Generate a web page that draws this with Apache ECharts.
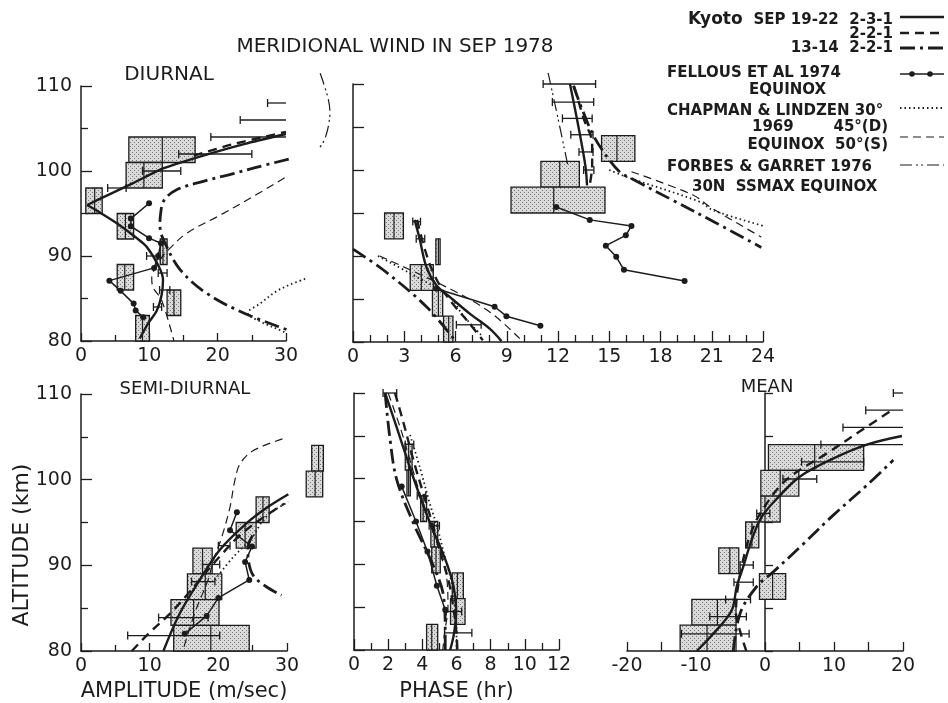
<!DOCTYPE html>
<html>
<head>
<meta charset="utf-8">
<title>Meridional wind in Sep 1978</title>
<script src="https://cdn.jsdelivr.net/npm/echarts@6/dist/echarts.min.js"></script>
<style>
  html, body { margin: 0; padding: 0; background: #ffffff; }
  #chart { width: 948px; height: 703px; }
</style>
</head>
<body>
<div id="chart"></div>
<script>
// ---------------- tick labels ----------------
const altTicks = [80, 90, 100, 110];                 // km
const ampTicks = [0, 10, 20, 30];                    // m/s
const diurnalPhaseTicks = [0, 3, 6, 9, 12, 15, 18, 21, 24];   // hr
const semiPhaseTicks = [0, 2, 4, 6, 8, 10, 12];                // hr
const meanTicks = [-20, -10, 0, 10, 20];                       // m/s

// ---------------- DIURNAL amplitude ----------------
// boxes: [low, centre, high, altBottom, altTop]
const diurnalAmpBoxes = [
  [7.0, 11.9, 16.7, 101, 104],
  [6.6, 9.2, 11.9, 98, 101],
  [0.7, 2.0, 3.1, 95, 98],
  [5.3, 6.5, 7.7, 92, 95],
  [11.6, 12.0, 12.6, 89, 92],
  [5.3, 6.4, 7.7, 86, 89],
  [12.6, 13.6, 14.6, 83, 86],
  [8.0, 9.0, 10.0, 80, 83]
];
// error bars: [low, high, altitude]
const diurnalAmpErr = [
  [27.3, 31, 108], [23.3, 31, 106], [19.0, 31, 104], [14.3, 25.0, 102],
  [9.0, 14.6, 100], [3.9, 6.6, 98], [9.6, 11.3, 90], [11.3, 12.6, 88],
  [11.5, 13.0, 86], [10.6, 11.8, 84]
];
const diurnalAmpK231Upper = [[30, 104.35], [24, 103.2], [17.4, 101.7], [12, 100.3], [7.7, 98.6], [4, 97.2], [0.9, 96.0]];
const diurnalAmpK231Lower = [[0.9, 96.0], [3.0, 95.0], [5.7, 93.6], [8.0, 92.2], [9.6, 91.1], [11.3, 88.9], [12.0, 87.2], [11.8, 85.4], [11.1, 83.6], [9.85, 82.1], [8.6, 80.3]];
const diurnalAmpK221 = [[16.5, 101.8], [22, 103.1], [30, 104.6]];
const diurnalAmpK1314 = [[30.4, 101.4], [25.5, 100.4], [22.3, 99.7], [18.4, 98.9], [14.0, 97.8], [12.2, 96.6], [11.7, 95.3], [11.6, 93.1], [12.3, 91.5], [14.5, 88.4], [18.4, 85.6], [23.8, 83.3], [30.6, 81.2]];
const diurnalAmpCL30 = [[32.8, 87.3], [30.5, 86.6], [28.5, 85.8], [26.2, 84.4], [24.4, 83.3], [26.2, 82.3], [29.6, 81.1], [30.0, 80.8]];
const diurnalAmpCL45 = [[29.8, 99.2], [25.2, 97.0], [20.35, 94.8], [15.5, 92.7], [13.0, 90.9], [11.6, 89.6], [10.8, 88.5], [10.35, 87.5], [10.5, 86.4], [11.8, 84.8], [13.6, 80.0]];
const diurnalAmpFG = [[35.0, 111.5], [36.2, 108.4], [36.4, 106.4], [35.7, 103.8], [34.7, 102.5]];
const diurnalAmpFellous = [[9.96, 96.2], [7.3, 94.4], [7.3, 93.5], [9.96, 92.1], [11.7, 91.5], [11.3, 90.0], [10.7, 88.6], [4.15, 87.1], [5.8, 85.9], [7.7, 84.4], [8.0, 83.6], [9.1, 82.8]];

// ---------------- DIURNAL phase ----------------
const diurnalPhaseBoxes = [
  [14.55, 15.45, 16.5, 101, 104],
  [11.0, 12.1, 13.25, 98, 101],
  [9.25, 11.75, 14.75, 95, 98],
  [1.85, 2.4, 2.95, 92, 95],
  [4.85, 5.0, 5.1, 89, 92],
  [3.35, 4.0, 4.7, 86, 89],
  [4.65, 5.0, 5.25, 83, 86],
  [5.3, 5.6, 5.85, 80, 83]
];
const diurnalPhaseErr = [
  [11.13, 14.2, 110], [11.67, 14.09, 107.9], [12.26, 14.0, 106], [12.75, 14.05, 104.1],
  [13.23, 14.05, 102.1], [13.5, 14.1, 100], [6.05, 7.5, 82], [3.5, 3.95, 94], [3.7, 4.2, 92]
];
const diurnalPhaseK231Upper = [[12.7, 110], [13.2, 105], [13.6, 100.5], [13.7, 98.2]];
const diurnalPhaseK231Lower = [[3.61, 94.2], [3.9, 92], [4.3, 88.7], [4.88, 86.6], [5.66, 85.25], [6.83, 83.3], [8.0, 81.55], [8.69, 80.1]];
const diurnalPhaseK221Upper = [[12.95, 109.7], [13.5, 106], [14.0, 103], [14.0, 100.5], [13.85, 98.2]];
const diurnalPhaseK221Lower = [[3.75, 94.2], [4.1, 91.5], [4.6, 88.5], [5.2, 86.2], [5.9, 84.3], [6.8, 82.2], [7.6, 80.2]];
const diurnalPhaseK1314Upper = [[12.9, 109.8], [13.9, 104.7], [14.6, 102.3], [15.6, 99.8], [16.3, 99.0], [18.7, 96.5], [21.2, 93.9], [23.9, 91.0]];
const diurnalPhaseK1314Lower = [[0, 90.8], [1.76, 88.4], [4.3, 84.1], [6.0, 80.1]];
const diurnalPhaseCL30Upper = [[15.0, 100.0], [16.0, 99.2], [20.3, 96.3], [21.1, 95.3], [24.2, 93.4]];
const diurnalPhaseCL30Lower = [[1.46, 90.0], [3.32, 88.0], [5.66, 85.25], [6.44, 83.1], [7.6, 80.6]];
const diurnalPhaseCL45Upper = [[16.3, 99.8], [19.9, 97.1], [20.9, 95.7], [23.9, 92.2]];
const diurnalPhaseCL45Lower = [[1.56, 90.0], [5.66, 86.2], [8.0, 83.5], [9.76, 80.4]];
const diurnalPhaseFG = [[11.42, 111.3], [12.0, 106], [12.59, 100.4]];
const diurnalPhaseFellousUpper = [[11.9, 95.7], [13.86, 94.2], [16.3, 93.5], [15.97, 92.4], [14.8, 91.2], [15.41, 89.9], [15.86, 88.4], [19.41, 87.1]];
const diurnalPhaseFellousLower = [[4.9, 86.2], [8.29, 84.1], [8.98, 83.0], [10.97, 81.9]];

// ---------------- SEMI-DIURNAL amplitude ----------------
const semiAmpBoxes = [
  [33.6, 34.6, 35.3, 101, 104],
  [32.8, 34.1, 35.2, 98, 101],
  [25.5, 26.5, 27.4, 95, 98],
  [22.6, 23.9, 25.5, 92, 95],
  [16.3, 17.7, 19.1, 89, 92],
  [15.5, 18.1, 20.5, 86, 89],
  [13.1, 16.4, 20.1, 83, 86],
  [13.5, 18.9, 24.5, 80, 83]
];
const semiAmpErr = [
  [6.8, 20.2, 81.8], [11.3, 18.5, 83.9], [16.1, 19.5, 88.1], [17.7, 20.2, 90.1], [20.0, 21.7, 92.3]
];
const semiAmpK231 = [[12.0, 80], [14.4, 84.4], [17.3, 88.3], [20.2, 91.8], [24.1, 94.9], [27.2, 96.8], [30.2, 98.3]];
const semiAmpK221 = [[7.4, 80], [9.8, 82], [13.0, 84.4], [15.5, 86.6], [18.0, 89], [20.5, 91.3], [23, 93.4], [26, 95.3], [29.6, 97.2]];
const semiAmpK1314 = [[25.0, 93.5], [24.3, 92.0], [24.4, 90.5], [25.1, 88.8], [27.0, 87.5], [29.2, 86.5]];
const semiAmpCL30 = [[19.5, 88.3], [22.2, 91.0], [24.6, 92.9], [27.0, 95.7], [30.2, 97.4]];
const semiAmpCL50 = [[15.0, 80.5], [16.6, 84.5], [18.5, 88.3], [19.3, 90.6], [20.5, 93.3], [21.7, 96.8], [22.4, 99.9], [23.2, 101.9], [25.1, 103.4], [29.5, 104.8]];
const semiAmpFellous = [[22.7, 96.2], [21.7, 94.1], [24.9, 92.2], [23.9, 90.4], [24.5, 88.3], [20.0, 86.2], [18.3, 84.1], [15.1, 82.0]];

// ---------------- SEMI-DIURNAL phase ----------------
const semiPhaseBoxes = [
  [3.0, 3.2, 3.4, 101, 104],
  [3.1, 3.2, 3.3, 98, 101],
  [3.9, 4.05, 4.25, 95, 98],
  [4.5, 4.7, 4.9, 92, 95],
  [4.55, 4.8, 5.05, 89, 92],
  [5.75, 6.05, 6.4, 86, 89],
  [5.65, 6.0, 6.5, 83, 86],
  [4.25, 4.55, 4.9, 80, 83]
];
const semiPhaseErr = [
  [1.7, 2.5, 110], [5.3, 6.9, 82], [3.0, 3.5, 104], [3.7, 4.2, 98], [4.4, 5.0, 94.5], [5.4, 6.3, 84.5]
];
const semiPhaseK231 = [[1.82, 110], [2.5, 106], [3.19, 101.8], [3.85, 98], [4.46, 94.8], [5.34, 90.6], [5.82, 87.5], [5.98, 84.7], [5.86, 82.0], [5.63, 80]];
const semiPhaseK221 = [[2.4, 110], [2.9, 106.5], [3.5, 102], [4.1, 98], [4.7, 94], [5.2, 90.5], [5.6, 87.5], [5.85, 84.5], [6.0, 82], [6.05, 80]];
const semiPhaseK1314 = [[1.82, 110], [2.11, 104.6], [2.5, 99.9], [3.48, 94.8], [4.65, 89.8], [5.24, 86.3], [5.34, 82.0], [5.34, 80]];
const semiPhaseCL30 = [[3.28, 105.1], [3.9, 101], [4.45, 97], [4.85, 94.5], [5.3, 91], [5.7, 88], [5.9, 85], [6.0, 82], [6.0, 80]];
const semiPhaseCL50 = [[2.0, 110], [2.7, 106], [3.3, 102], [3.9, 98], [4.5, 94.5], [5.1, 91], [5.45, 88], [5.5, 85], [5.3, 82], [5.2, 80]];
const semiPhaseFellous = [[2.79, 99.1], [3.63, 95.0], [4.3, 91.5], [4.85, 87.5], [5.34, 84.7]];

// ---------------- MEAN ----------------
const meanBoxes = [
  [0.5, 7.2, 14.3, 101, 104],
  [-0.6, 2.2, 4.9, 98, 101],
  [-0.6, 0.0, 2.2, 95, 98],
  [-2.8, -1.9, -0.9, 92, 95],
  [-6.7, -5.1, -3.8, 89, 92],
  [-0.8, 1.1, 3.0, 86, 89],
  [-10.6, -6.9, -4.2, 83, 86],
  [-12.3, -8.4, -4.2, 80, 83]
];
const meanErr = [
  [18.6, 21, 110], [14.6, 21, 108], [11.3, 21, 106], [8.1, 21, 104], [5.3, 14.3, 102],
  [2.6, 7.5, 100], [-1.2, 0.7, 96], [-3.6, -1.7, 90], [-4.5, -1.7, 88], [-5.7, -2.1, 86],
  [-8.0, -2.7, 84], [-12.1, -2.3, 82]
];
const meanK231 = [[-9.9, 80], [-7.5, 82], [-4.84, 84.7], [-4.1, 87.5], [-3.15, 89.8], [-1.94, 92.9], [-0.48, 95.6], [2.18, 98.1], [5.08, 100.3], [9.93, 102.4], [14.77, 104], [19.85, 105]];
const meanK221 = [[-2.7, 80], [-3.5, 82], [-4.2, 84.5], [-4.0, 87], [-3.2, 90.5], [-2.0, 93.8], [-0.3, 96.5], [3.1, 99.9], [9.0, 103], [14.8, 106.1], [18.6, 108.1]];
const meanK1314 = [[-4.6, 80], [-3.6, 84.4], [-1.2, 87.5], [1.2, 89.2], [5.1, 92.1], [9.9, 95.8], [14.8, 99.3], [18.6, 102.2]];

// ---------------- styling ----------------
const ink = '#1c1c1c';
const FONT = 'DejaVu Sans';
const styles = {
  k231:  { color: ink, width: 2.4, type: 'solid' },
  k221:  { color: ink, width: 2.4, type: [9, 6] },
  k1314: { color: ink, width: 2.8, type: [15, 5, 3, 5] },
  fel:   { color: ink, width: 1.5, type: 'solid' },
  cl30:  { color: ink, width: 1.8, type: [1.5, 3] },
  cl45:  { color: ink, width: 1.2, type: [8, 5] },
  fg:    { color: ink, width: 1.2, type: [12, 4, 2, 3, 2, 4] }
};

// stippled fill for the observation boxes
function makeStipple() {
  const c = document.createElement('canvas');
  c.width = 4; c.height = 4;
  const g = c.getContext('2d');
  g.fillStyle = '#dadada'; g.fillRect(0, 0, 4, 4);
  g.fillStyle = '#7a7a7a';
  g.fillRect(0, 0, 1, 1);
  g.fillRect(2, 2, 1, 1);
  return c;
}
const stipple = { image: makeStipple(), repeat: 'repeat' };

// panel rectangles
const grids = [
  { left: 81,  top: 86,  width: 205, height: 255 },  // diurnal amplitude
  { left: 353, top: 84,  width: 410, height: 258 },  // diurnal phase
  { left: 81,  top: 394, width: 206, height: 257 },  // semi-diurnal amplitude
  { left: 354, top: 393, width: 205, height: 258 },  // semi-diurnal phase
  { left: 627, top: 393, width: 276, height: 258 }   // mean
];

function axisRange(ticks) {
  return { min: ticks[0], max: ticks[ticks.length - 1], interval: ticks[1] - ticks[0] };
}

function xAxisFor(gi, ticks, minorSplit, majorLen, minorLen, extra) {
  return Object.assign({
    type: 'value', gridIndex: gi,
    splitLine: { show: false },
    axisLine: { show: true, onZero: false, lineStyle: { color: ink, width: 1.5 } },
    axisTick: { show: true, inside: true, length: majorLen, lineStyle: { color: ink, width: 1.3 } },
    minorTick: { show: minorSplit > 1, splitNumber: minorSplit, length: minorLen, lineStyle: { color: ink, width: 1.3 } },
    minorSplitLine: { show: false },
    axisLabel: { show: true, color: ink, fontFamily: FONT, fontSize: 19, margin: 6 }
  }, axisRange(ticks), extra || {});
}

function yAxisFor(gi, step, minorSplit, showLabels, onZero, majorLen, minorLen) {
  return {
    type: 'value', gridIndex: gi, min: altTicks[0], max: altTicks[altTicks.length - 1], interval: step,
    splitLine: { show: false },
    axisLine: { show: true, onZero: onZero, lineStyle: { color: ink, width: 1.5 } },
    axisTick: { show: true, inside: true, length: majorLen, lineStyle: { color: ink, width: 1.3 } },
    minorTick: { show: minorSplit > 1, splitNumber: minorSplit, length: minorLen, lineStyle: { color: ink, width: 1.3 } },
    minorSplitLine: { show: false },
    axisLabel: { show: showLabels, color: ink, fontFamily: FONT, fontSize: 19, margin: 9 }
  };
}

const xAxes = [
  xAxisFor(0, ampTicks, 2, 8, 6),
  xAxisFor(1, diurnalPhaseTicks, 3, 11, 7),
  xAxisFor(2, ampTicks, 2, 8, 6, {
    name: 'AMPLITUDE (m/sec)', nameLocation: 'middle', nameGap: 30,
    nameTextStyle: { color: ink, fontFamily: FONT, fontSize: 21 }
  }),
  xAxisFor(3, semiPhaseTicks, 2, 11, 7, {
    name: 'PHASE (hr)', nameLocation: 'middle', nameGap: 31,
    nameTextStyle: { color: ink, fontFamily: FONT, fontSize: 21 }
  }),
  xAxisFor(4, meanTicks, 2, 9, 9)
];
const yAxes = [
  yAxisFor(0, 10, 2, true, false, 11, 7),
  yAxisFor(1, 5, 1, false, false, 11, 7),
  yAxisFor(2, 10, 2, true, false, 11, 7),
  yAxisFor(3, 5, 1, false, false, 11, 7),
  yAxisFor(4, 5, 1, false, true, 8, 8)
];

// ---------------- renderers ----------------
function renderBox(params, api) {
  const lo = api.value(0), mid = api.value(1), hi = api.value(2);
  const bottom = api.value(3), top = api.value(4);
  const a = api.coord([lo, top]);
  const b = api.coord([hi, bottom]);
  const m0 = api.coord([mid, top]);
  const m1 = api.coord([mid, bottom]);
  return {
    type: 'group',
    children: [
      { type: 'rect', shape: { x: a[0], y: a[1], width: b[0] - a[0], height: b[1] - a[1] },
        style: { fill: stipple, stroke: ink, lineWidth: 1.3 } },
      { type: 'line', shape: { x1: m0[0], y1: m0[1], x2: m1[0], y2: m1[1] },
        style: { stroke: ink, lineWidth: 1.2 } }
    ]
  };
}

function makeErrRenderer(xMin, xMax) {
  return function (params, api) {
    const lo = api.value(0), hi = api.value(1), alt = api.value(2);
    const a = api.coord([Math.max(lo, xMin), alt]);
    const b = api.coord([Math.min(hi, xMax), alt]);
    const cap = 4;
    const kids = [{ type: 'line', shape: { x1: a[0], y1: a[1], x2: b[0], y2: b[1] },
                    style: { stroke: ink, lineWidth: 1.3 } }];
    if (lo >= xMin) kids.push({ type: 'line', shape: { x1: a[0], y1: a[1] - cap, x2: a[0], y2: a[1] + cap }, style: { stroke: ink, lineWidth: 1.3 } });
    if (hi <= xMax) kids.push({ type: 'line', shape: { x1: b[0], y1: b[1] - cap, x2: b[0], y2: b[1] + cap }, style: { stroke: ink, lineWidth: 1.3 } });
    return { type: 'group', children: kids };
  };
}

// ---------------- series builders ----------------
const series = [];
function addBoxes(gi, boxes) {
  series.push({ type: 'custom', xAxisIndex: gi, yAxisIndex: gi, data: boxes,
    encode: { x: [0, 1, 2], y: [3, 4] }, renderItem: renderBox, z: 2, silent: true, animation: false });
}
function addErr(gi, errs, ticks) {
  series.push({ type: 'custom', xAxisIndex: gi, yAxisIndex: gi, data: errs,
    encode: { x: [0, 1], y: 2 }, renderItem: makeErrRenderer(ticks[0], ticks[ticks.length - 1]),
    z: 4, silent: true, animation: false });
}
function addCurve(gi, data, style, smooth) {
  series.push({ type: 'line', xAxisIndex: gi, yAxisIndex: gi, data: data,
    smooth: smooth === undefined ? 0.35 : smooth, symbol: 'none', showSymbol: false, clip: false,
    lineStyle: Object.assign({ cap: 'butt' }, style), z: 3, silent: true, animation: false });
}
// a curve that is allowed to run past the panel frame
function addFreeCurve(gi, data, style) {
  series.push({ type: 'custom', xAxisIndex: gi, yAxisIndex: gi, data: data,
    encode: { x: 0, y: 1 }, clip: false, z: 3, silent: true, animation: false,
    renderItem: function (params, api) {
      if (params.dataIndex !== 0) return null;
      const pts = data.map(function (p) { return api.coord(p); });
      return { type: 'polyline', shape: { points: pts, smooth: 0.35 },
               style: { stroke: style.color, lineWidth: style.width, fill: null,
                        lineDash: Array.isArray(style.type) ? style.type : null } };
    } });
}
function addFellous(gi, data) {
  series.push({ type: 'line', xAxisIndex: gi, yAxisIndex: gi, data: data,
    smooth: false, symbol: 'circle', symbolSize: 6, showSymbol: true, clip: false,
    itemStyle: { color: ink }, lineStyle: styles.fel, z: 3, silent: true, animation: false });
}

// diurnal amplitude
addBoxes(0, diurnalAmpBoxes);
addErr(0, diurnalAmpErr, ampTicks);
addCurve(0, diurnalAmpK231Upper, styles.k231, 0.2);
addCurve(0, diurnalAmpK231Lower, styles.k231);
addCurve(0, diurnalAmpK221, styles.k221);
addFreeCurve(0, diurnalAmpK1314, styles.k1314);
addFreeCurve(0, diurnalAmpCL30, styles.cl30);
addCurve(0, diurnalAmpCL45, styles.cl45);
addFreeCurve(0, diurnalAmpFG, styles.fg);
addFellous(0, diurnalAmpFellous);

// diurnal phase
addBoxes(1, diurnalPhaseBoxes);
addErr(1, diurnalPhaseErr, diurnalPhaseTicks);
addCurve(1, diurnalPhaseK231Upper, styles.k231);
addCurve(1, diurnalPhaseK231Lower, styles.k231);
addCurve(1, diurnalPhaseK221Upper, styles.k221);
addCurve(1, diurnalPhaseK221Lower, styles.k221);
addCurve(1, diurnalPhaseK1314Upper, styles.k1314);
addCurve(1, diurnalPhaseK1314Lower, styles.k1314);
addCurve(1, diurnalPhaseCL30Upper, styles.cl30);
addCurve(1, diurnalPhaseCL30Lower, styles.cl30);
addCurve(1, diurnalPhaseCL45Upper, styles.cl45);
addCurve(1, diurnalPhaseCL45Lower, styles.cl45);
addFreeCurve(1, diurnalPhaseFG, styles.fg);
addFellous(1, diurnalPhaseFellousUpper);
addFellous(1, diurnalPhaseFellousLower);

// semi-diurnal amplitude
addBoxes(2, semiAmpBoxes);
addErr(2, semiAmpErr, ampTicks);
addCurve(2, semiAmpK231, styles.k231);
addCurve(2, semiAmpK221, styles.k221);
addCurve(2, semiAmpK1314, styles.k1314);
addCurve(2, semiAmpCL30, styles.cl30);
addCurve(2, semiAmpCL50, styles.cl45);
addFellous(2, semiAmpFellous);

// semi-diurnal phase
addBoxes(3, semiPhaseBoxes);
addErr(3, semiPhaseErr, semiPhaseTicks);
addCurve(3, semiPhaseK231, styles.k231);
addCurve(3, semiPhaseK221, styles.k221);
addCurve(3, semiPhaseK1314, styles.k1314);
addCurve(3, semiPhaseCL30, styles.cl30);
addCurve(3, semiPhaseCL50, styles.cl45);
addFellous(3, semiPhaseFellous);

// mean
addBoxes(4, meanBoxes);
addErr(4, meanErr, meanTicks);
addCurve(4, meanK231, styles.k231);
addCurve(4, meanK221, styles.k221);
addCurve(4, meanK1314, styles.k1314);

// ---------------- titles and key ----------------
function txt(text, x, y, size, align, weight, rotation) {
  return {
    type: 'text', x: x, y: y, rotation: rotation || 0, silent: true,
    style: { text: text, fill: ink, font: (weight || 'normal') + ' ' + size + 'px "' + FONT + '"',
             textAlign: align || 'left', textVerticalAlign: 'middle' }
  };
}
function keyLine(y, dash, width) {
  return { type: 'line', silent: true, shape: { x1: 900, y1: y, x2: 944, y2: y },
           style: { stroke: ink, lineWidth: width, lineDash: dash } };
}
function dot(x, y) {
  return { type: 'circle', silent: true, shape: { cx: x, cy: y, r: 2.8 }, style: { fill: ink } };
}

const graphics = [
  txt('MERIDIONAL WIND IN SEP 1978', 395, 47, 20, 'center'),
  txt('DIURNAL', 169, 75, 20, 'center'),
  txt('SEMI-DIURNAL', 185, 389, 18, 'center'),
  txt('MEAN', 767, 387, 18, 'center'),
  txt('ALTITUDE (km)', 22, 545, 22, 'center', 'normal', Math.PI / 2),

  txt('Kyoto', 688, 20, 17, 'left', 'bold'),
  txt('SEP 19-22  2-3-1', 893, 20, 15, 'right', 'bold'),
  txt('2-2-1', 893, 34, 15, 'right', 'bold'),
  txt('13-14  2-2-1', 893, 48, 15, 'right', 'bold'),
  txt('FELLOUS ET AL 1974', 667, 73, 15, 'left', 'bold'),
  txt('EQUINOX', 749, 90, 15, 'left', 'bold'),
  txt('CHAPMAN & LINDZEN 30°', 667, 111, 15, 'left', 'bold'),
  txt('1969', 752, 127, 15, 'left', 'bold'),
  txt('45°(D)', 888, 127, 15, 'right', 'bold'),
  txt('EQUINOX  50°(S)', 888, 145, 15, 'right', 'bold'),
  txt('FORBES & GARRET 1976', 667, 167, 15, 'left', 'bold'),
  txt('30N  SSMAX EQUINOX', 692, 187, 15, 'left', 'bold'),

  keyLine(17, null, 2.4),
  keyLine(33, [9, 6], 2.4),
  keyLine(48, [15, 5, 3, 5], 2.8),
  keyLine(74, null, 1.5), dot(912, 74), dot(930, 74),
  keyLine(108, [1.5, 3], 1.8),
  keyLine(137, [8, 5], 1.2),
  keyLine(165, [12, 4, 2, 3, 2, 4], 1.2)
];

const chart = echarts.init(document.getElementById('chart'), null, { renderer: 'canvas' });
chart.setOption({
  backgroundColor: '#ffffff',
  animation: false,
  grid: grids,
  xAxis: xAxes,
  yAxis: yAxes,
  series: series,
  graphic: { elements: graphics }
});
</script>
</body>
</html>
